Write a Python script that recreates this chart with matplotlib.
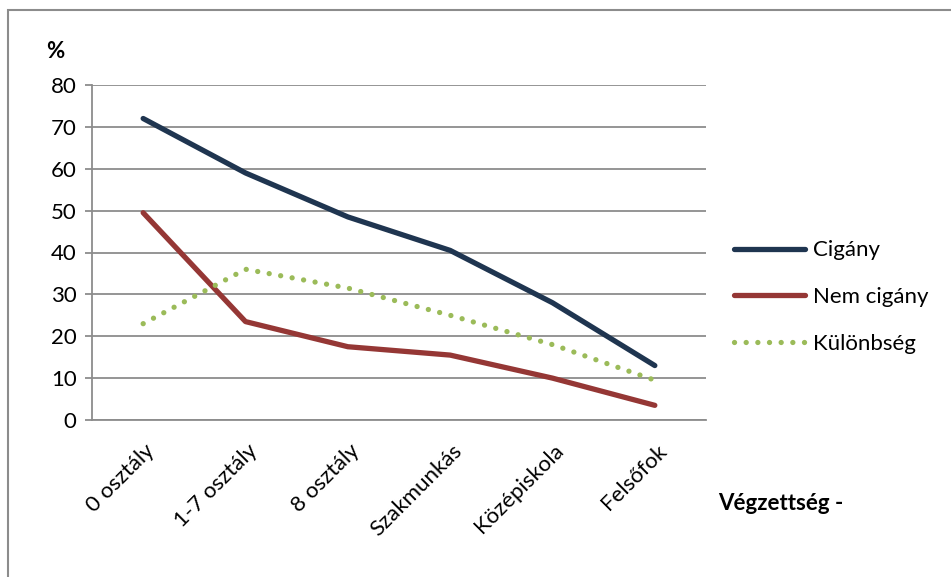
import matplotlib
matplotlib.use("Agg")
import matplotlib.pyplot as plt
from matplotlib.patches import Rectangle
from matplotlib.lines import Line2D

categories = ["0 osztály", "1-7 osztály", "8 osztály", "Szakmunkás", "Középiskola", "Felsőfok"]
cigany = [72, 59, 48.5, 40.5, 28, 13]
nem_cigany = [49.5, 23.5, 17.5, 15.5, 10, 3.5]
kulonbseg = [23, 36, 31.5, 25, 18, 9.5]
series_names = ["Cigány", "Nem cigány", "Különbség"]
yticks = [0, 10, 20, 30, 40, 50, 60, 70, 80]

plt.rcParams['font.family'] = ['Lato', 'DejaVu Sans']

W, H = 951, 577
fig = plt.figure(figsize=(W/100, H/100), dpi=100)

def fx(px): return px / W
def fy(py): return 1 - py / H

FS = 16

# outer chart border (left and top visible)
fig.patches.append(Rectangle((fx(8), fy(700)), fx(1100), fy(10) - fy(700),
                             transform=fig.transFigure, fill=False,
                             edgecolor='#8c8c8c', linewidth=1.5))

ax = fig.add_axes([fx(92), fy(420), fx(706) - fx(92), fy(85) - fy(420)])
x = list(range(len(categories)))

c1, c2, c3 = '#1F3550', '#953735', '#9BBB59'
dots = (0, (0.01, 2.2))
ax.plot(x, cigany, color=c1, lw=3.8, solid_capstyle='round', solid_joinstyle='round', zorder=3)
ax.plot(x, nem_cigany, color=c2, lw=3.8, solid_capstyle='round', solid_joinstyle='round', zorder=3)
ax.plot(x, kulonbseg, color=c3, lw=3.8, linestyle=dots, dash_capstyle='round', zorder=3)

ax.set_xlim(-0.5, 5.5)
ax.set_ylim(0, 80)
ax.set_yticks(yticks)
ax.set_yticklabels([str(v) for v in yticks], fontsize=FS)
ax.yaxis.grid(True, color='#8c8c8c', linewidth=1.3)
ax.set_axisbelow(True)
ax.tick_params(axis='y', length=5, width=1.3, color='#8c8c8c', pad=6)
ax.set_xticks(x)
ax.set_xticklabels([])
ax.tick_params(axis='x', length=0)
for s in ['top', 'right']:
    ax.spines[s].set_visible(False)
for s in ['left', 'bottom']:
    ax.spines[s].set_color('#8c8c8c')
    ax.spines[s].set_linewidth(1.3)

for xi, lab in zip(x, categories):
    ax.annotate(lab, xy=(xi, 0), xycoords='data', xytext=(6, -20), textcoords='offset points',
                rotation=45, ha='right', va='center', rotation_mode='anchor', fontsize=FS)

fig.text(fx(55), fy(52), "%", fontsize=FS, fontweight='bold', ha='center', va='center')
fig.text(fx(718), fy(503), "Végzettség -", fontsize=FS, fontweight='bold', ha='left', va='center')

handles = [Line2D([0], [0], color=c1, lw=3.8, solid_capstyle='round'),
           Line2D([0], [0], color=c2, lw=3.8, solid_capstyle='round'),
           Line2D([0], [0], color=c3, lw=3.8, linestyle=dots, dash_capstyle='round')]
leg = fig.legend(handles, series_names, loc='center left', bbox_to_anchor=(fx(714), fy(297)),
                 frameon=False, fontsize=FS, handlelength=3.2, handletextpad=0.35,
                 labelspacing=1.2)

fig.savefig("out.png", dpi=100)
